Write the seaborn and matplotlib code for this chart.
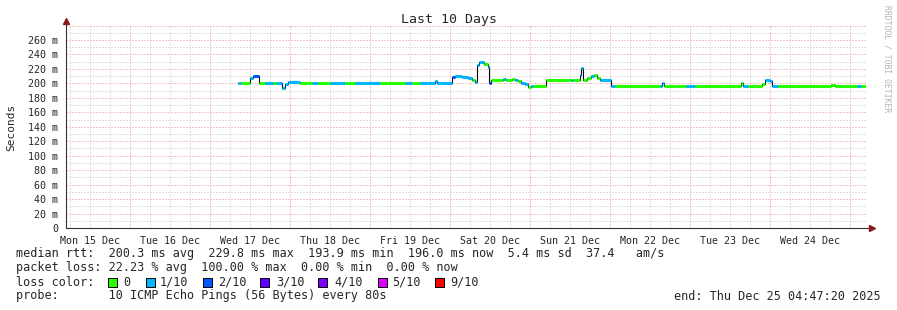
import matplotlib
matplotlib.use('Agg')
import matplotlib.pyplot as plt
from matplotlib.patches import Rectangle
import pandas as pd
import seaborn as sns

# median rtt, step series: hours since Mon 15 Dec 00:00, value in ms, pings lost (of 10)
times = [56.4, 57.3, 60.0, 60.9, 62.7, 64.5, 66.9, 67.8, 69.6, 70.5, 71.4, 75.0, 78.6, 80.4,
         84.0, 88.5, 91.5, 97.5, 99.0, 106.5, 108.6, 111.0, 115.5, 116.1, 120.6, 121.5, 123.6,
         125.4, 126.6, 127.5, 128.1, 128.7, 130.2, 131.4, 131.7, 132.3, 135.9, 136.8, 138.6,
         139.5, 140.4, 141.3, 142.5, 143.4, 144.3, 144.9, 148.8, 156.3, 156.9, 159.0, 159.3,
         159.9, 161.1, 162.3, 163.2, 164.1, 165.0, 168.3, 169.5, 183.0, 183.6, 184.2, 188.4,
         189.6, 190.8, 193.5, 207.3, 207.9, 209.4, 213.6, 214.5, 216.0, 216.6, 218.4, 234.3,
         235.5, 242.1, 243.3]
median = [201, 201, 208, 210, 201, 201, 201, 201, 194, 199, 202, 201, 201, 201,
          201, 201, 201, 200, 200, 201, 201, 201, 203, 201, 209, 210, 209,
          207, 204, 202, 225, 229, 227, 222, 201, 205, 206, 205, 206,
          204, 203, 201, 199, 195, 196, 196, 205, 205, 205, 212, 221,
          205, 207, 210, 212, 208, 205, 196, 196, 196, 200, 196, 197,
          196, 196, 196, 201, 196, 196, 199, 204, 203, 196, 196, 198,
          196, 196, 196]
loss = [1, 0, 1, 2, 0, 1, 0, 1, 1, 1, 1, 0, 1, 0,
        1, 0, 1, 1, 0, 1, 0, 1, 1, 1, 2, 1, 1,
        1, 0, 1, 1, 1, 0, 1, 2, 0, 1, 0, 0,
        1, 0, 1, 1, 0, 1, 0, 0, 1, 0, 1, 1,
        0, 0, 1, 0, 0, 1, 1, 0, 1, 1, 0, 0,
        0, 1, 0, 0, 1, 0, 0, 1, 1, 1, 0, 0,
        0, 1, 0]
end_h = 244.79

loss_levels = ['0', '1/10', '2/10', '3/10', '4/10', '5/10', '9/10']
loss_colors = ['#26ff00', '#00b8ff', '#0059ff', '#5e00ff', '#7e00ff', '#dd00ff', '#ff0000']
day_labels = ['Mon 15 Dec', 'Tue 16 Dec', 'Wed 17 Dec', 'Thu 18 Dec', 'Fri 19 Dec',
              'Sat 20 Dec', 'Sun 21 Dec', 'Mon 22 Dec', 'Tue 23 Dec', 'Wed 24 Dec']
y_ticks = [0, 20, 40, 60, 80, 100, 120, 140, 160, 180, 200, 220, 240, 260]

sns.set_style('white')
plt.rcParams['font.family'] = ['DejaVu Sans Mono']

W, H = 897, 310
fig = plt.figure(figsize=(W / 100, H / 100), dpi=100)
ax = fig.add_axes([66 / W, 82 / H, 800 / W, 202.5 / H])
ax.set_xlim(end_h - 240, end_h)
ax.set_ylim(0, 280)

def fx(px):
    return px / W

def fy(py):
    return 1 - py / H

# grid
dot = (0, (1, 2))
red, grey = '#f08a8a', '#c4c4c4'
for h in range(6, 245, 6):
    ax.axvline(h, color=red if h % 24 == 0 else grey, lw=0.72, ls=dot, zorder=0)
for v in range(10, 281, 10):
    ax.axhline(v, color=red if v % 20 == 0 else grey, lw=0.72, ls=dot, zorder=0)

# median line
df = pd.DataFrame({'t': times + [end_h], 'ms': median + [median[-1]]})
sns.lineplot(data=df, x='t', y='ms', drawstyle='steps-post', color='black',
             lw=0.8, estimator=None, ax=ax, zorder=2)
ends = times[1:] + [end_h]
ax.hlines(median, times, ends, colors=[loss_colors[l] for l in loss], lw=2.2, zorder=3)

# axes
for s in ax.spines.values():
    s.set_visible(False)
ax.plot([0, 0], [0, 1.02], color='#333333', lw=0.8, transform=ax.transAxes, clip_on=False)
ax.plot([0, 1.008], [0, 0], color='#333333', lw=0.8, transform=ax.transAxes, clip_on=False)
ax.plot([0], [1.02], marker='^', ms=4, color='#8b1a1a', transform=ax.transAxes, clip_on=False)
ax.plot([1.008], [0], marker='>', ms=4, color='#8b1a1a', transform=ax.transAxes, clip_on=False)

ax.set_yticks(y_ticks)
ax.set_yticklabels([f'{v} m' if v else '0' for v in y_ticks])
ax.set_xticks([12 + 24 * i for i in range(10)])
ax.set_xticklabels(day_labels)
ax.set_xticks(range(24, 241, 24), minor=True)
ax.tick_params(axis='x', which='major', length=0, labelsize=7.2, pad=6)
ax.tick_params(axis='x', which='minor', length=2, direction='inout', color=red, width=0.7)
ax.tick_params(axis='y', length=3, direction='inout', color='#999999', width=0.7,
               labelsize=7.2, pad=4)
ax.set_xlabel('')
ax.set_ylabel('')

# texts
fig.text(0.5, fy(20), 'Last 10 Days', ha='center', va='center', fontsize=9.5)
fig.text(fx(11), fy(127), 'Seconds', rotation=90, ha='center', va='center', fontsize=8)
fig.text(fx(887), fy(59), 'RRDTOOL / TOBI OETIKER', rotation=270, ha='center', va='center',
         fontsize=5.8, color='#b4b4b4')

fs = 8.5
fig.text(fx(16), fy(254), 'median rtt:  200.3 ms avg  229.8 ms max  193.9 ms min  '
         '196.0 ms now  5.4 ms sd  37.4   am/s', va='center', fontsize=fs)
fig.text(fx(16), fy(268), 'packet loss: 22.23 % avg  100.00 % max  0.00 % min  0.00 % now',
         va='center', fontsize=fs)
fig.text(fx(16), fy(282), 'loss color:', va='center', fontsize=fs)
box_x = [108, 146, 203, 260, 318, 378, 435]
lab_x = [123, 160, 218, 276, 334, 392, 450]
for bx, lx, lab, col in zip(box_x, lab_x, loss_levels, loss_colors):
    fig.patches.append(Rectangle((fx(bx), fy(286.5)), 9 / W, 9 / H, transform=fig.transFigure,
                                 facecolor=col, edgecolor='black', lw=0.7))
    fig.text(fx(lx), fy(282), lab, va='center', fontsize=fs)
fig.text(fx(16), fy(296), 'probe:       10 ICMP Echo Pings (56 Bytes) every 80s',
         va='center', fontsize=fs)
fig.text(fx(881), fy(296), 'end: Thu Dec 25 04:47:20 2025', ha='right', va='center', fontsize=fs)

fig.savefig('out.png', dpi=100, facecolor='white')
